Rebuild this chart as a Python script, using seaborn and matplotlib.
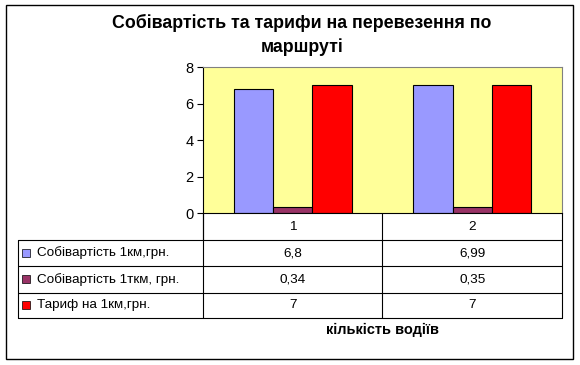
import matplotlib.pyplot as plt
import matplotlib.patches as mpatches
import pandas as pd
import seaborn as sns

# data
categories = ['1', '2']
series = ['Собівартість 1км,грн.', 'Собівартість 1ткм, грн.', 'Тариф на 1км,грн.']
cost_km = [6.8, 6.99]
cost_tkm = [0.34, 0.35]
tariff_km = [7, 7]
cell_text = [['6,8', '6,99'], ['0,34', '0,35'], ['7', '7']]
colors = ['#9999FF', '#993366', '#FF0000']

df = pd.DataFrame({
    'cat': categories * 3,
    'series': [s for s in series for _ in categories],
    'value': cost_km + cost_tkm + tariff_km,
})

sns.set_style('white')
plt.rcParams['font.family'] = ['Liberation Sans', 'DejaVu Sans']
plt.rcParams['text.color'] = 'black'
plt.rcParams['ytick.color'] = 'black'

fig = plt.figure(figsize=(5.8, 3.65), dpi=100)
fig.patches.append(mpatches.Rectangle((0.0103, 0.0164), 0.978, 0.97, transform=fig.transFigure,
                                      fill=False, edgecolor='black', linewidth=1))

ax = fig.add_axes([0.35, 0.4164, 0.619, 0.4])
sns.barplot(data=df, x='cat', y='value', hue='series', hue_order=series, order=categories,
            palette=colors, saturation=1, width=0.655, edgecolor='black', linewidth=0.8,
            legend=False, ax=ax)
ax.set_facecolor('#FFFF99')
ax.set_xlim(-0.5, 1.5)
ax.set_ylim(0, 8)
ax.set_yticks([0, 2, 4, 6, 8])
ax.set_xticks([])
ax.set_xlabel('')
ax.set_ylabel('')
ax.tick_params(axis='y', direction='out', length=4, width=0.8, color='black', labelsize=10.5, pad=3, left=True)
for s in ['top', 'right']:
    ax.spines[s].set_color('#808080')
    ax.spines[s].set_linewidth(0.8)
ax.spines['left'].set_color('black')
ax.spines['bottom'].set_color('black')
ax.spines['left'].set_linewidth(0.8)
ax.spines['bottom'].set_linewidth(0.8)

# data table under the plot
tab = fig.add_axes([0.031, 0.1288, 0.938, 0.2876])
tab.set_xlim(0, 1)
tab.set_ylim(0, 1)
tab.axis('off')
lc = 0.34
colw = (1 - lc) / len(categories)
rows_y = [1, 0.743, 0.495, 0.238, 0]
lw = 0.8
kw = dict(color='black', lw=lw, clip_on=False)
# header row
tab.plot([lc, lc], [rows_y[0], rows_y[1]], **kw)
tab.plot([1, 1], [rows_y[0], rows_y[-1]], **kw)
tab.plot([0, 1], [rows_y[1], rows_y[1]], **kw)
tab.plot([0, 0], [rows_y[1], rows_y[-1]], **kw)
for y in rows_y[2:]:
    tab.plot([0, 1], [y, y], **kw)
for j in range(len(categories)):
    x0 = lc + j * colw
    tab.plot([x0, x0], [rows_y[0], rows_y[-1]], **kw)
    tab.text(x0 + colw / 2, (rows_y[0] + rows_y[1]) / 2, categories[j], ha='center', va='center', fontsize=9.7)
for i, name in enumerate(series):
    yc = (rows_y[i + 1] + rows_y[i + 2]) / 2
    tab.add_patch(mpatches.Rectangle((0.008, yc - 0.037), 0.015, 0.078, facecolor=colors[i],
                                     edgecolor='black', linewidth=0.5))
    tab.text(0.035, yc, name, ha='left', va='center', fontsize=9.7)
    for j in range(len(categories)):
        tab.text(lc + j * colw + colw / 2, yc, cell_text[i][j], ha='center', va='center', fontsize=9.7)

fig.text(0.521, 0.903, 'Собівартість та тарифи на перевезення по\nмаршруті', ha='center', va='center',
         fontsize=12.8, fontweight='bold', linespacing=1.45)
fig.text(0.66, 0.097, 'кількість водіїв', ha='center', va='center', fontsize=10.5, fontweight='bold')

fig.savefig('out.png', dpi=100)
